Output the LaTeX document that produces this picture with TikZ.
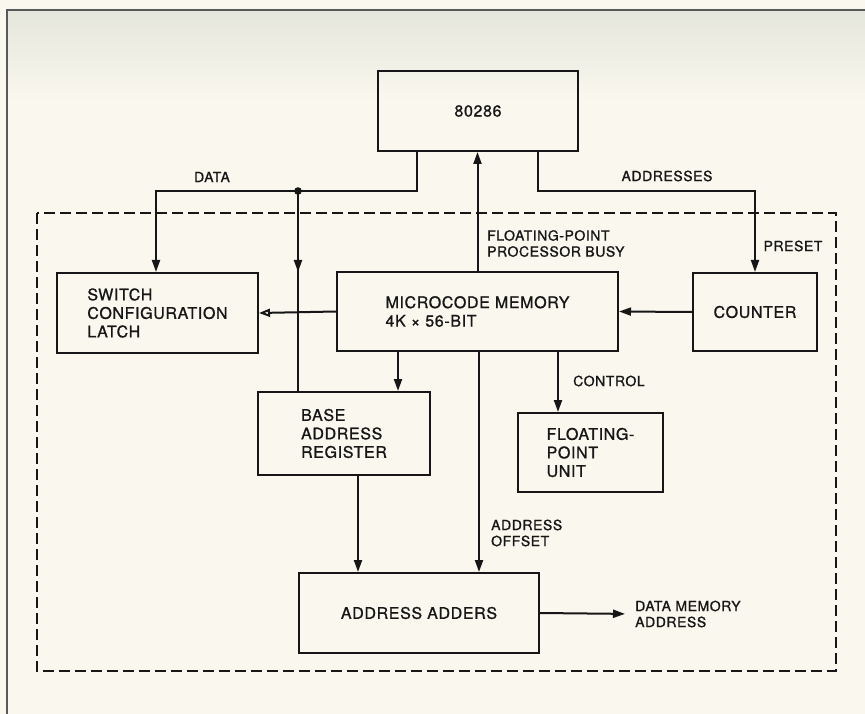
\documentclass[tikz,border=0pt]{standalone}
\usepackage{fontspec}
\setmainfont{TeX Gyre Heros}[FakeBold=1,LetterSpace=4]
\usetikzlibrary{calc,arrows.meta,positioning}
\definecolor{paper}{RGB}{249,247,238}
\definecolor{smudge}{RGB}{229,230,220}
\definecolor{ink}{RGB}{22,22,22}
\tikzset{
  box/.style={draw=ink,line width=2pt,rectangle,align=left,inner sep=0pt,
    font=\fontsize{16}{18.5}\selectfont,text=ink},
  wire/.style={draw=ink,line width=2pt},
  arr/.style={wire,-{Triangle[length=12pt,width=8pt]}},
  oarr/.style={wire,-{Triangle[open,length=11pt,width=8pt]}},
  lbl/.style={font=\fontsize{14}{16}\selectfont,align=left,inner sep=0pt,text=ink},
}
\begin{document}
\begin{tikzpicture}[x=1pt,y=-1pt]
        % pixel grid of the page, y grows downwards
        \useasboundingbox (0,0) rectangle (865,714);
        \fill[paper] (0,0) rectangle (865,714);
        \shade[top color=smudge,bottom color=paper] (7,10) rectangle (865,100);
        \draw[line width=1.5pt,black!65] (865,10) -- (7,10) -- (7,714);

        % coprocessor board
        \draw[ink,line width=2pt,dash pattern=on 11pt off 5pt] (37,213) rectangle (836,671);

        \node[box,minimum width=200pt,minimum height=80pt] (cpu) at (478,111) {80286};
        \node[box,minimum width=201pt,minimum height=80pt] (latch) at (157.5,313) {SWITCH\\CONFIGURATION\\LATCH};
        \node[box,minimum width=281pt,minimum height=79pt] (mcm) at (477.5,311.5) {MICROCODE MEMORY\\4K × 56-BIT};
        \node[box,minimum width=124pt,minimum height=78pt] (counter) at (755,312) {COUNTER};
        \node[box,minimum width=172pt,minimum height=83pt] (bar) at (344,433.5) {BASE\\ADDRESS\\REGISTER};
        \node[box,minimum width=145pt,minimum height=79pt] (fpu) at (590.5,452.5) {FLOATING-\\POINT\\UNIT};
        \node[box,minimum width=240pt,minimum height=80pt] (adders) at (419,613) {ADDRESS ADDERS};

        % bends of the buses
        \coordinate (dbend) at (417,191);
        \coordinate (dot) at (298,191);
        \coordinate (dleft) at (156,191);
        \coordinate (abend) at (538,191);
        \coordinate (aright) at (755,191);

        % data bus
        \draw[arr] (cpu.south -| dbend) -- (dbend) -- (dleft) -- (latch.north -| dleft);
        \draw[wire] (dot) -- (dot |- bar.north);
        \draw[arr] (dot) -- (dot |- latch.north);
        \fill[ink] (dot) circle (3.8pt);

        % address bus
        \draw[arr] (cpu.south -| abend) -- (abend) -- (aright) -- (counter.north);

        \draw[arr] (mcm.north) -- (mcm.north |- cpu.south);
        \draw[arr] (counter.west) -- (mcm.east);
        \draw[oarr] (mcm.west) -- (latch.east);
        \draw[arr] ($(mcm.south west)+(62,0)$) coordinate (m1) -- (m1 |- bar.north);
        \draw[arr] ($(mcm.south west)+(143,0)$) coordinate (m2) -- (m2 |- adders.north);
        \draw[arr] ($(mcm.south west)+(222,0)$) coordinate (m3) -- (m3 |- fpu.north);
        \draw[arr] ($(bar.south west)+(101,0)$) coordinate (b1) -- (b1 |- adders.north);

        \node[lbl] (datalbl) at (212,177) {DATA};
        \node[lbl] (addrlbl) at (667,176) {ADDRESSES};
        \node[lbl,anchor=west] (busylbl) at (487,243.5) {FLOATING-POINT\\PROCESSOR BUSY};
        \node[lbl] (presetlbl) at (793,246) {PRESET};
        \node[lbl,anchor=west] (ctrllbl) at (573,381) {CONTROL};
        \node[lbl,anchor=west] (offlbl) at (491,533) {ADDRESS\\OFFSET};
        \node[lbl,anchor=west] (dmalbl) at (635,614) {DATA MEMORY\\ADDRESS};

        \draw[arr,shorten >=10pt] (adders.east) -- (dmalbl.west);
    \end{tikzpicture}
\end{document}
